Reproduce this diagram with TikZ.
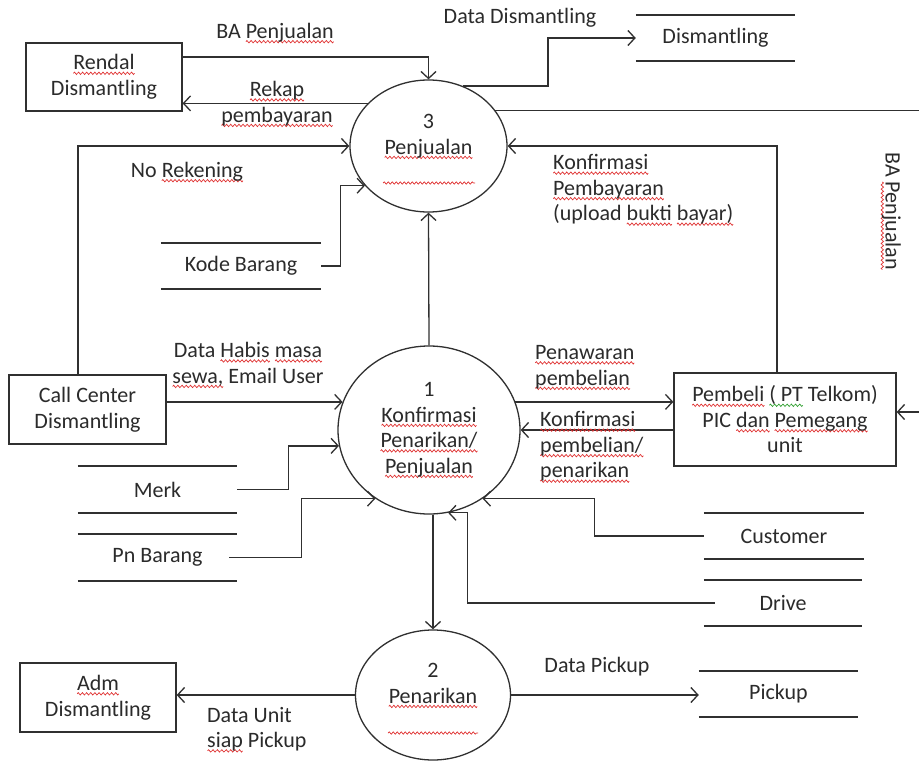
\documentclass[tikz,border=0pt]{standalone}
\usepackage{fontspec}
\setmainfont{Carlito}
\usetikzlibrary{shapes.geometric,arrows.meta,decorations.pathmorphing}
\definecolor{txt}{HTML}{2B2B2B}
\definecolor{linec}{HTML}{303030}
\definecolor{sqred}{HTML}{E03030}
\definecolor{sqgreen}{HTML}{30A030}
\newsavebox\waveR
\newsavebox\waveG
\newcommand\mkwave[2]{\sbox#1{\begin{pgfpicture}%
  \pgfpathrectangle{\pgfpoint{0bp}{-1.2bp}}{\pgfpoint{4bp}{2.4bp}}\pgfusepath{use as bounding box}%
  \pgfsetlinewidth{0.7bp}\pgfsetstrokecolor{#2}%
  \pgfpathmoveto{\pgfpoint{0bp}{0bp}}%
  \pgfpathsine{\pgfpoint{1bp}{1.2bp}}\pgfpathcosine{\pgfpoint{1bp}{-1.2bp}}%
  \pgfpathsine{\pgfpoint{1bp}{-1.2bp}}\pgfpathcosine{\pgfpoint{1bp}{1.2bp}}%
  \pgfusepath{stroke}\end{pgfpicture}}}
\newsavebox\wordbox
\newcommand\sqr[1]{\sbox\wordbox{#1}\rlap{\lower4.5bp\hbox to\wd\wordbox{\xleaders\copy\waveR\hfil}}\usebox{\wordbox}}
\newcommand\sqg[1]{\sbox\wordbox{#1}\rlap{\lower4.5bp\hbox to\wd\wordbox{\xleaders\copy\waveG\hfil}}\usebox{\wordbox}}
\newcommand\fsz{\fontsize{22bp}{25.5bp}\selectfont}
\begin{document}
\mkwave{\waveR}{sqred}\mkwave{\waveG}{sqgreen}%
\begin{tikzpicture}[x=1bp,y=-1bp,
  every node/.style={font=\fsz, text=txt},
  box/.style={draw=linec, line width=1.3bp, rectangle, inner sep=0pt, align=center},
  proc/.style={draw=linec, line width=1.3bp, ellipse, inner sep=0pt},
  ds/.style={inner sep=0pt, minimum height=46bp},
  lbl/.style={align=center, inner sep=0pt},
  flow/.style={draw=linec, line width=1.3bp, -{Straight Barb[length=7bp,width=15bp,line width=1.3bp]}},
  conn/.style={draw=linec, line width=1.3bp},
  dsline/.style={draw=linec, line width=1.6bp},
  wave/.style={draw=sqred, line width=0.7bp, decorate, decoration={snake, amplitude=1.2bp, segment length=4bp}}]
\useasboundingbox (0,0) rectangle (919,766);
\fill[white] (0,0) rectangle (919,766);

% external entities
\node[box, minimum width=156bp, minimum height=68bp] (rendal) at (104,77) {\sqr{Rendal}\\Dismantling};
\node[box, minimum width=157bp, minimum height=69bp] (cc) at (87.5,409.5) {Call Center\\Dismantling};
\node[box, minimum width=222bp, minimum height=93bp] (pembeli) at (785,419.5) {\sqr{Pembeli} \sqg{( PT} Telkom)\\PIC \sqr{dan} \sqr{Pemegang}\\unit};
\node[box, minimum width=156bp, minimum height=69bp] (adm) at (98,697.5) {\sqr{Adm}\\Dismantling};

% processes
\node[proc, minimum width=157bp, minimum height=132bp] (p3) at (428.5,146) {};
\node[lbl] (p3t) at (428.5,136.5) {3\\\sqr{Penjualan}};
\draw[wave] (383,183) -- (475,183);
\node[proc, minimum width=182bp, minimum height=168bp] (p1) at (429,430) {};
\node[lbl] (p1t) at (429,430) {1\\\sqr{Konfirmasi}\\\sqr{Penarikan/}\\\sqr{Penjualan}};
\node[proc, minimum width=155bp, minimum height=130bp] (p2) at (433,695) {};
\node[lbl] (p2t) at (433,685.5) {2\\\sqr{Penarikan}};
\draw[wave] (388,733) -- (478,733);

% data stores
\node[ds, minimum width=159bp] (dism) at (715.5,38) {Dismantling};
\node[ds, minimum width=160bp] (kode) at (241,266) {Kode Barang};
\node[ds, minimum width=159bp, minimum height=47bp] (merk) at (157.5,489.5) {Merk};
\node[ds, minimum width=159bp, minimum height=47bp] (pn) at (157.5,557.5) {Pn Barang};
\node[ds, minimum width=160bp] (cust) at (784,536) {Customer};
\node[ds, minimum width=158bp] (drive) at (783,603) {Drive};
\node[ds, minimum width=159bp] (pick) at (778.5,694) {Pickup};
\foreach \n in {dism,kode,merk,pn,cust,drive,pick}
  \draw[dsline] (\n.north west) -- (\n.north east) (\n.south west) -- (\n.south east);

\coordinate (rtop) at (919,111);
\coordinate (rbot) at (919,412);

% connectors
\draw[flow] (rendal.east |- 0,57) -| (p3.north);
\draw[flow] (p3.145) -- (rendal.east |- p3.145);
\draw[flow] (p3.60) -- (p3.60 -| 548,0) |- (dism.west);
\draw[conn] (p3.28) -- (p3.28 -| rtop);
\draw[flow] (rbot) -- (pembeli.east |- rbot);
\draw[flow] ([xshift=-8bp]pembeli.north) |- (p3.east);
\draw[flow] ([xshift=-9.5bp]cc.north) |- (p3.west);
\draw[flow] (kode.east) -- ++(19,0) |- (p3.212);
\draw[flow] (p1.north) -- (p3.south);
\draw[flow] (cc.east |- p1.162) -- (p1.162);
\draw[flow] (merk.east) -- ++(51,0) |- (p1.190);
\draw[flow] ([xshift=-8bp]pn.east) -- ++(72,0) |- (p1.232);
\draw[flow] (p1.18) -- (pembeli.west |- p1.18);
\draw[flow] (pembeli.west |- p1.east) -- (p1.east);
\draw[flow] (cust.west) -- ++(-109,0) |- (p1.308);
\draw[flow] ([xshift=11bp]drive.west) -- ++(-247,0) |- (p1.283);
\draw[flow] (p2.north |- p1.south) -- (p2.north);
\draw[flow] (p2.west) -- (adm.east |- p2.west);
\draw[flow] (p2.east) -- (pick.west |- p2.east);

% labels
\node[lbl] (lba) at (275,33) {BA \sqr{Penjualan}};
\node[lbl] (lrekap) at (277,104) {\sqr{Rekap}\\\sqr{pembayaran}};
\node[lbl] (ldd) at (520,18) {Data Dismantling};
\node[lbl] (lnorek) at (187,172) {No \sqr{Rekening}};
\node[lbl, align=left, anchor=west] (lkp) at (553,190) {\sqr{Konfirmasi}\\\sqr{Pembayaran}\\(upload \sqr{bukti} \sqr{bayar)}};
\node[lbl] (ldh) at (248,365) {Data \sqr{Habis} \sqr{masa}\\\sqr{sewa,} Email User};
\node[lbl, align=left, anchor=west] (lpw) at (535,367.5) {\sqr{Penawaran}\\\sqr{pembelian}};
\node[lbl, align=left, anchor=west] (lkpb) at (540,447) {\sqr{Konfirmasi}\\\sqr{pembelian/}\\\sqr{penarikan}};
\node[lbl, align=left, anchor=west] (ldu) at (207,729.5) {Data Unit\\\sqr{siap} Pickup};
\node[lbl] (ldp) at (597,667) {Data Pickup};
\node[lbl, rotate=-90] (lba2) at (891,211) {BA \sqr{Penjualan}};
\end{tikzpicture}
\end{document}
